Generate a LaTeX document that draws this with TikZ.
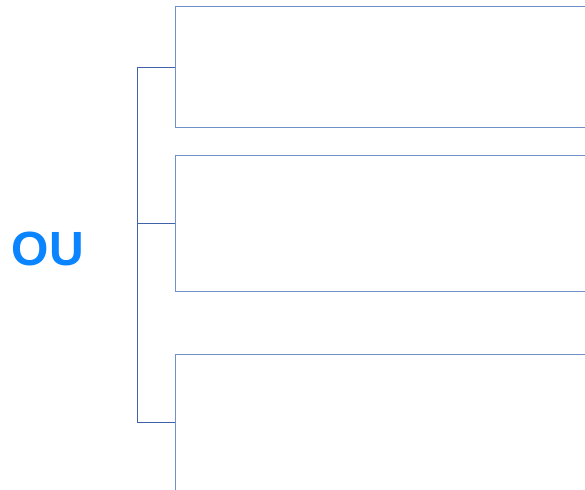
\documentclass[tikz,border=0pt]{standalone}
\usepackage{fontspec}
\setmainfont{Liberation Sans}
\definecolor{boxline}{HTML}{6F90C8}
\definecolor{brline}{HTML}{3F62A8}
\definecolor{oublue}{HTML}{0A84FF}
\tikzset{
  itembox/.style={draw=boxline, line width=1pt, anchor=north west, minimum width=440pt, inner sep=0pt, outer sep=0pt},
  brace/.style={draw=brline, line width=0.9pt},
}
\begin{document}
\begin{tikzpicture}[x=1pt,y=-1pt]
\useasboundingbox (0,0) rectangle (585,489);
\clip (0,0) rectangle (585,489);
\node[itembox, minimum height=121pt] (b1) at (175,7) {};
\node[itembox, minimum height=136pt] (b2) at (175,155) {};
\node[itembox, minimum height=136pt] (b3) at (175,354) {};
\node[font=\bfseries\fontsize{48}{48}\selectfont, text=oublue, inner sep=0pt] (ou) at (48,249) {OU};
\coordinate (v1) at (137,0 |- b1.west);
\coordinate (v3) at (137,0 |- b3.west);
\coordinate (v2) at (137,0 |- b2.west);
\draw[brace] (b1.west) -- (v1) -- (v3) -- (b3.west);
\draw[brace] (v2) -- (b2.west);
\end{tikzpicture}
\end{document}
